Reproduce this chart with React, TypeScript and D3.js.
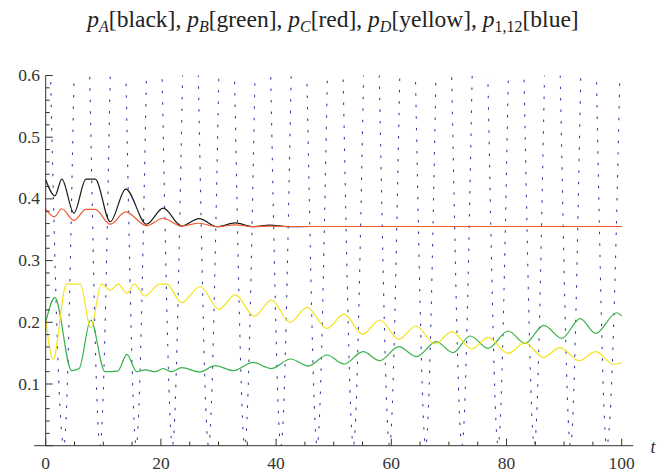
import React from 'react';
import * as d3 from 'd3';

// reading of the curves: times t and values p at turning points
const tA = [0, 1.6, 2.8, 4.9, 7.0, 8.6, 11.2, 13.9, 17.5, 20.4, 23.6, 26.6, 29.8, 32.9, 36, 38.9, 42, 46, 100];
const pA = [0.431, 0.405, 0.432, 0.377, 0.432, 0.432, 0.363, 0.416, 0.359, 0.385, 0.356, 0.368, 0.355, 0.361, 0.355, 0.3575, 0.355, 0.3553, 0.3553];

const tC = [0, 1.5, 2.8, 4.9, 7.0, 8.6, 11.2, 13.9, 17.5, 20.4, 23.6, 26.6, 29.8, 32.9, 36, 38.9, 42, 100];
const pC = [0.383, 0.371, 0.384, 0.365, 0.383, 0.383, 0.359, 0.379, 0.3566, 0.3686, 0.356, 0.3605, 0.355, 0.358, 0.355, 0.356, 0.3553, 0.3553];

const tD = [0, 1.3, 3.6, 6.0, 7.8, 9.7, 11.2, 12.6, 14.1, 15.4, 17.2, 19.8, 21.0, 23.6, 26.8, 30.1, 32.9, 36.2, 39.2, 42.4, 45.4, 48.8, 51.8, 55.0, 58.0, 61.3, 64.3, 67.6, 70.5, 74.0, 76.8, 80.3, 83.2, 86.4, 89.3, 92.6, 95.5, 98.5, 100];
const pD = [0.205, 0.14, 0.262, 0.262, 0.191, 0.262, 0.252, 0.262, 0.247, 0.262, 0.2426, 0.262, 0.262, 0.2318, 0.258, 0.221, 0.245, 0.21, 0.236, 0.2, 0.2243, 0.19, 0.2134, 0.1805, 0.2037, 0.1724, 0.194, 0.1648, 0.1848, 0.1567, 0.1757, 0.1497, 0.167, 0.1432, 0.159, 0.1378, 0.1524, 0.132, 0.1345];

const tB = [0, 1.6, 4.5, 5.8, 7.8, 10.3, 12.5, 14.1, 15.8, 17.3, 19.0, 20.4, 21.8, 23.6, 26.8, 29.4, 32.6, 36.0, 39.2, 42.5, 45.6, 48.8, 51.8, 55.1, 58.0, 61.3, 64.4, 67.8, 70.7, 73.7, 76.8, 80.3, 83.2, 86.5, 89.6, 92.8, 95.5, 99.1, 100];
const pB = [0.2, 0.24, 0.1216, 0.125, 0.2037, 0.12, 0.121, 0.148, 0.12, 0.1228, 0.12, 0.1248, 0.12, 0.1265, 0.1195, 0.1297, 0.1216, 0.135, 0.125, 0.1405, 0.129, 0.147, 0.1324, 0.1524, 0.1378, 0.1605, 0.1443, 0.1686, 0.1508, 0.1778, 0.1578, 0.1859, 0.166, 0.195, 0.174, 0.2058, 0.182, 0.2155, 0.21];

// p_{1,12}: turning points (max 1, min 0)
const t112 = [0, 3.14, 6.28, 9.42, 12.57, 15.71, 18.85, 21.99, 25.13, 28.27, 31.42, 34.56, 37.7, 40.84, 43.98, 47.12, 50.27, 53.41, 56.55, 59.69, 62.83, 65.97, 69.12, 72.26, 75.4, 78.54, 81.68, 84.82, 87.96, 91.11, 94.25, 97.39, 100.53];
const p112 = [1, 0, 1, 0, 1, 0, 1, 0, 1, 0, 1, 0, 1, 0, 1, 0, 1, 0, 1, 0, 1, 0, 1, 0, 1, 0, 1, 0, 1, 0, 1, 0, 1];

const xMajor = [0, 20, 40, 60, 80, 100];
const xMinor = d3.range(0, 101, 5);
const yMajor = [0.1, 0.2, 0.3, 0.4, 0.5, 0.6];
const yMinor = d3.range(0, 0.601, 0.02);

const W = 666, H = 473;
const x = d3.scaleLinear().domain([0, 100]).range([45.7, 621.7]);
const y = d3.scaleLinear().domain([0, 0.6]).range([445.7, 75.5]);

const line = d3.line<[number, number]>()
  .x(d => x(d[0]))
  .y(d => y(d[1]))
  .curve(d3.curveMonotoneX);

const zip = (ts: number[], ps: number[]) => ts.map((t, i) => [t, ps[i]] as [number, number]);

const series = [
  { t: tB, p: pB, color: '#36b24a' },
  { t: tD, p: pD, color: '#f4e41c' },
  { t: tA, p: pA, color: '#1a1a1a' },
  { t: tC, p: pC, color: '#ee5a30' },
];

const serif = "'Liberation Serif', 'Times New Roman', serif";
const axisColor = '#333';
const sub = 16;

export default function App() {
  return (
    <svg width={W} height={H} style={{ position: 'absolute', left: 0, top: 0, background: '#fff', fontFamily: serif }}>
      <defs>
        <clipPath id="plot">
          <rect x={x(0)} y={y(0.6)} width={x(100) - x(0)} height={y(0) - y(0.6)} />
        </clipPath>
      </defs>

      <text x={333} y={27} textAnchor="middle" fill="#222" style={{ fontFamily: serif, fontSize: 23.5 }}>
        <tspan fontStyle="italic">p</tspan>
        <tspan fontSize={sub} fontStyle="italic" dy={5}>A</tspan>
        <tspan dy={-5}>[black], </tspan>
        <tspan fontStyle="italic">p</tspan>
        <tspan fontSize={sub} fontStyle="italic" dy={5}>B</tspan>
        <tspan dy={-5}>[green], </tspan>
        <tspan fontStyle="italic">p</tspan>
        <tspan fontSize={sub} fontStyle="italic" dy={5}>C</tspan>
        <tspan dy={-5}>[red], </tspan>
        <tspan fontStyle="italic">p</tspan>
        <tspan fontSize={sub} fontStyle="italic" dy={5}>D</tspan>
        <tspan dy={-5}>[yellow], </tspan>
        <tspan fontStyle="italic">p</tspan>
        <tspan fontSize={sub} dy={5}>1,12</tspan>
        <tspan dy={-5}>[blue]</tspan>
      </text>

      {/* curves */}
      <g clipPath="url(#plot)">
        <path d={line(zip(t112, p112)) || ''} fill="none" stroke="#3535a3" strokeWidth={1.05}
          strokeDasharray="2.5 9" />
      </g>
      {series.map((s, i) => (
        <path key={i} d={line(zip(s.t, s.p)) || ''} fill="none" stroke={s.color} strokeWidth={1.2} />
      ))}

      {/* axes */}
      <g stroke={axisColor} strokeWidth={1} fill="none">
        <line x1={x(-2)} x2={x(102)} y1={y(0)} y2={y(0)} />
        <line x1={x(0)} x2={x(0)} y1={y(0)} y2={y(0.6)} />
        {xMinor.map(v => (
          <line key={'xm' + v} x1={x(v)} x2={x(v)} y1={y(0)} y2={y(0) - (v % 20 === 0 ? 7 : 4)} />
        ))}
        {yMinor.map((v, i) => (
          <line key={'ym' + i} x1={x(0)} x2={x(0) + (i % 5 === 0 ? 7 : 4)} y1={y(v)} y2={y(v)} />
        ))}
      </g>
      {xMajor.map(v => (
        <text key={'xl' + v} x={x(v)} y={469} textAnchor="middle" fill={axisColor}
          style={{ fontFamily: serif, fontSize: 17.5 }}>{v}</text>
      ))}
      {yMajor.map(v => (
        <text key={'yl' + v} x={40} y={y(v) + 5.5} textAnchor="end" fill={axisColor}
          style={{ fontFamily: serif, fontSize: 17.5 }}>{v.toFixed(1)}</text>
      ))}
      <text x={653} y={453} textAnchor="middle" fontStyle="italic" fill={axisColor}
        style={{ fontFamily: serif, fontSize: 18 }}>t</text>
    </svg>
  );
}
